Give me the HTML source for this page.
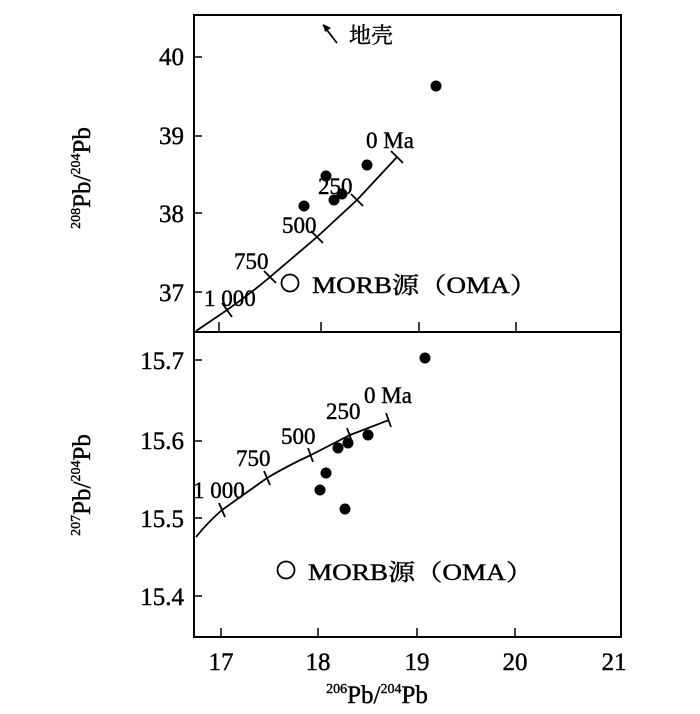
<!DOCTYPE html>
<html><head><meta charset="utf-8"><style>
body{margin:0;background:#fff}
svg{display:block}
text{font-family:"Liberation Serif","Noto Serif CJK SC",serif;fill:#000;stroke:#000;stroke-width:0.4}
</style></head><body>
<svg width="700" height="714" viewBox="0 0 700 714" xmlns="http://www.w3.org/2000/svg">
<g stroke="#000" stroke-width="2" fill="none">
<rect x="194" y="15" width="427" height="622"/>
<line x1="194" y1="332" x2="621" y2="332"/>
</g>
<g stroke="#000" stroke-width="1.5">
<line x1="194" y1="57" x2="202" y2="57"/><line x1="194" y1="136" x2="202" y2="136"/>
<line x1="194" y1="213" x2="202" y2="213"/><line x1="194" y1="292" x2="202" y2="292"/>
<line x1="219" y1="332" x2="219" y2="322"/><line x1="321" y1="332" x2="321" y2="322"/>
<line x1="419" y1="332" x2="419" y2="322"/><line x1="516" y1="332" x2="516" y2="322"/>
<line x1="194" y1="360" x2="202" y2="360"/><line x1="194" y1="441" x2="202" y2="441"/>
<line x1="194" y1="518" x2="202" y2="518"/><line x1="194" y1="596" x2="202" y2="596"/>
<line x1="221" y1="637" x2="221" y2="628"/><line x1="318" y1="637" x2="318" y2="628"/>
<line x1="417" y1="637" x2="417" y2="628"/><line x1="515" y1="637" x2="515" y2="628"/>
</g>
<g font-size="25" text-anchor="end">
<text x="184" y="65">40</text><text x="184" y="144">39</text><text x="184" y="222">38</text><text x="184" y="301">37</text>
<text x="184" y="369">15.7</text><text x="184" y="449">15.6</text><text x="184" y="527">15.5</text><text x="184" y="605">15.4</text>
</g>
<g font-size="25" text-anchor="middle">
<text x="221" y="670">17</text><text x="318" y="670">18</text><text x="417" y="670">19</text><text x="515" y="670">20</text><text x="614" y="670">21</text>
</g>
<text x="377" y="703" font-size="25" text-anchor="middle"><tspan font-size="14" dy="-10">206</tspan><tspan dy="10">Pb/</tspan><tspan font-size="14" dy="-10">204</tspan><tspan dy="10">Pb</tspan></text>
<text transform="translate(90,178) rotate(-90)" font-size="25" text-anchor="middle"><tspan font-size="14" dy="-10">208</tspan><tspan dy="10">Pb/</tspan><tspan font-size="14" dy="-10">204</tspan><tspan dy="10">Pb</tspan></text>
<text transform="translate(90,485) rotate(-90)" font-size="25" text-anchor="middle"><tspan font-size="14" dy="-10">207</tspan><tspan dy="10">Pb/</tspan><tspan font-size="14" dy="-10">204</tspan><tspan dy="10">Pb</tspan></text>
<g stroke="#000" stroke-width="1.8" fill="none">
<path d="M196,331 L227,310 Q250,294 270,277 L317,237 L357,200 L397,157"/>
<path d="M222,303 L232,317 M264,271 L276,283 M311,231 L323,243 M351,194 L363,206 M391,151 L403,163"/>
<path d="M196,537 Q208,522 222,510 L267,478 Q289,465 311,455 L350,435 L389,420"/>
<path d="M219,503 L225,517 M264,471 L270,485 M308,448 L313,462 M347,428 L352,442 M386,413 L391,427"/>
<path d="M323,25 L337,43"/>
</g>
<path d="M323,24 L331,28 L325,32 Z" fill="#000"/>
<text x="349" y="43" font-size="22">地壳</text>
<g fill="#000">
<circle cx="436" cy="86" r="5.5"/><circle cx="367" cy="165" r="5.5"/><circle cx="326" cy="176" r="5.5"/>
<circle cx="304" cy="206" r="5.5"/><circle cx="334" cy="200" r="5.5"/><circle cx="342" cy="194" r="5.5"/>
<circle cx="425" cy="358" r="5.5"/><circle cx="368" cy="435" r="5.5"/><circle cx="348" cy="443" r="5.5"/>
<circle cx="338" cy="448" r="5.5"/><circle cx="326" cy="473" r="5.5"/><circle cx="320" cy="490" r="5.5"/>
<circle cx="345" cy="509" r="5.5"/>
</g>
<circle cx="290" cy="283" r="8.5" fill="none" stroke="#000" stroke-width="1.8"/>
<circle cx="286" cy="570" r="8.5" fill="none" stroke="#000" stroke-width="1.8"/>
<g font-size="23">
<text x="366" y="148">0 Ma</text><text x="318" y="194">250</text><text x="282" y="233">500</text>
<text x="234" y="269">750</text><text x="204" y="306">1 000</text>
<text x="312" y="293" textLength="225" lengthAdjust="spacingAndGlyphs">MORB源（OMA）</text>
<text x="364" y="403">0 Ma</text><text x="326" y="419">250</text><text x="281" y="444">500</text>
<text x="236" y="466">750</text><text x="193" y="498">1 000</text>
<text x="308" y="580" textLength="225" lengthAdjust="spacingAndGlyphs">MORB源（OMA）</text>
</g>
</svg>
</body></html>
